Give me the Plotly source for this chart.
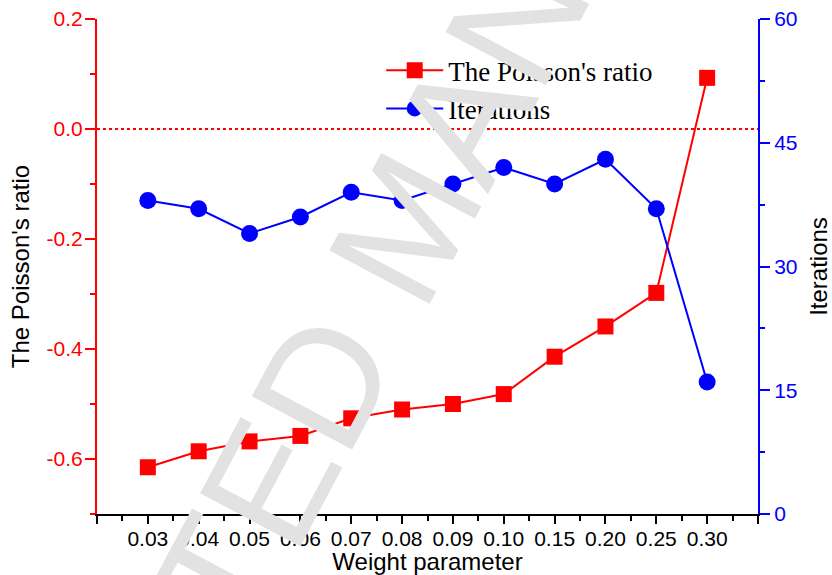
import plotly.graph_objects as go

categories = ["0.03", "0.04", "0.05", "0.06", "0.07", "0.08", "0.09", "0.10", "0.15", "0.20", "0.25", "0.30"]
poisson = [-0.615, -0.586, -0.568, -0.558, -0.526, -0.510, -0.500, -0.482, -0.414, -0.359, -0.298, 0.093]
iterations = [38, 37, 34, 36, 39, 38, 40, 42, 40, 43, 37, 16]
left_ticks = [-0.6, -0.4, -0.2, 0.0, 0.2]
left_ticktext = ["-0.6", "-0.4", "-0.2", "0.0", "0.2"]
right_ticks = [0, 15, 30, 45, 60]

xpos = list(range(1, len(categories) + 1))
tickvals = list(range(0, len(categories) + 2))
ticktext = [""] + categories + [""]

RED = "#ff0000"
BLUE = "#0000ff"
SANS = "Arial, Liberation Sans, sans-serif"
SERIF = "Times New Roman, Liberation Serif, serif"

fig = go.Figure()
fig.add_trace(go.Scatter(
    x=xpos, y=poisson, name="The Poisson's ratio", mode="lines+markers",
    line=dict(color=RED, width=2),
    marker=dict(symbol="square", size=16, color=RED),
    yaxis="y",
))
fig.add_trace(go.Scatter(
    x=xpos, y=iterations, name="Iterations", mode="lines+markers",
    line=dict(color=BLUE, width=2),
    marker=dict(symbol="circle", size=17, color=BLUE),
    yaxis="y2",
))

fig.add_shape(type="line", xref="paper", x0=0, x1=1, yref="y", y0=0, y1=0,
              line=dict(color=RED, width=2, dash="dot"))

fig.add_annotation(
    text="ACCEPTED MANUSCRIPT", xref="paper", yref="paper", x=0.47, y=0.585,
    showarrow=False, textangle=-62,
    font=dict(family=SANS, size=165, color="#e2e2e2"),
)

fig.update_layout(
    width=832, height=575,
    margin=dict(l=97, r=74, t=19, b=61, autoexpand=False),
    paper_bgcolor="white", plot_bgcolor="white",
    showlegend=True,
    legend=dict(x=0.43, y=0.945, xanchor="left", yanchor="top",
                bgcolor="rgba(0,0,0,0)", font=dict(family=SERIF, size=27, color="black"),
                tracegroupgap=0, itemwidth=57),
    xaxis=dict(
        range=[0, 13], tickvals=tickvals, ticktext=ticktext, automargin=True,
        showgrid=False, zeroline=False,
        showline=True, linecolor="black", linewidth=2,
        ticks="outside", ticklen=8, tickwidth=2, tickcolor="black",
        ticklabelstandoff=-3,
        minor=dict(tickvals=[v + 0.5 for v in tickvals[:-1]], ticks="outside", ticklen=5, tickwidth=2, tickcolor="black"),
        tickfont=dict(family=SANS, size=21, color="black"),
        title=dict(text="Weight parameter", font=dict(family=SANS, size=24, color="black"), standoff=2),
    ),
    xaxis2=dict(
        overlaying="x", side="top", range=[0, 13], tickvals=tickvals, showticklabels=False, automargin=False,
        showgrid=False, zeroline=False, showline=True, linecolor="black", linewidth=2,
        ticks="inside", ticklen=8, tickwidth=2, tickcolor="black",
        minor=dict(tickvals=[v + 0.5 for v in tickvals[:-1]], ticks="inside", ticklen=5, tickwidth=2, tickcolor="black"),
    ),
    yaxis=dict(
        range=[-0.7, 0.2], tickvals=left_ticks, ticktext=left_ticktext, automargin=True,
        showgrid=False, zeroline=False,
        showline=True, linecolor=RED, linewidth=2,
        ticks="outside", ticklen=10, tickwidth=2, tickcolor=RED,
        ticklabelstandoff=-2,
        minor=dict(tickvals=[-0.7, -0.5, -0.3, -0.1, 0.1], ticks="outside", ticklen=5, tickwidth=2, tickcolor=RED),
        tickfont=dict(family=SANS, size=21, color=RED),
        title=dict(text="The Poisson's ratio", font=dict(family=SANS, size=24, color="black"), standoff=10),
    ),
    yaxis2=dict(
        overlaying="y", side="right", range=[0, 60], tickvals=right_ticks, automargin=True,
        showgrid=False, zeroline=False,
        showline=True, linecolor=BLUE, linewidth=2,
        ticks="outside", ticklen=10, tickwidth=2, tickcolor=BLUE,
        minor=dict(tickvals=[7.5, 22.5, 37.5, 52.5], ticks="outside", ticklen=5, tickwidth=2, tickcolor=BLUE),
        tickfont=dict(family=SANS, size=21, color=BLUE),
        title=dict(text="Iterations", font=dict(family=SANS, size=24, color="black"), standoff=14),
    ),
)

fig.write_html("out.html")
